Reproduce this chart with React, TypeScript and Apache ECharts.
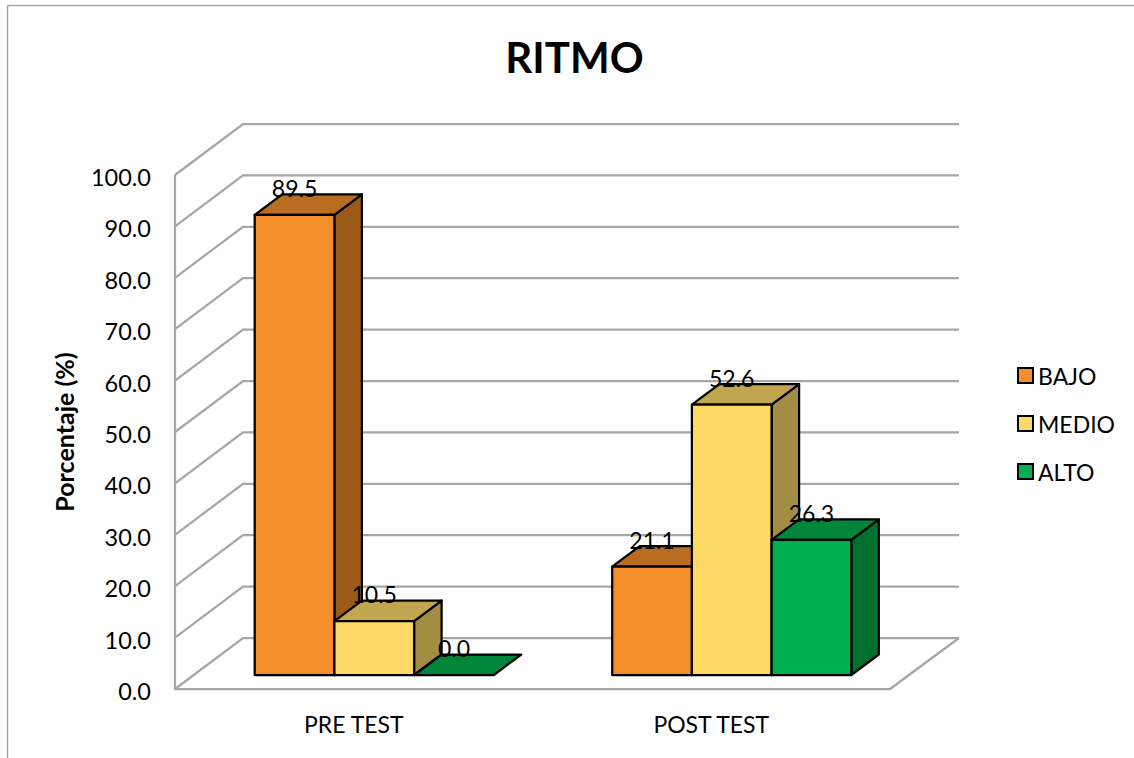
import React, { useEffect, useRef } from "react";
import * as echarts from "echarts";

const categories = ["PRE TEST", "POST TEST"];
const bajo = [89.5, 21.1];
const medio = [10.5, 52.6];
const alto = [0.0, 26.3];
const ticks = [0, 10, 20, 30, 40, 50, 60, 70, 80, 90, 100];

const FONT = "Lato";
const GRID_COLOR = "#A6A6A6";
// 3D projection offsets in pixels
const WALL_DX = 68;
const WALL_DY = -51;
const BAR_W = 79.7;
const BAR_OFF_X = 20.5;
const BAR_OFF_Y = -14;
const DEPTH_X = 27.5;
const DEPTH_Y = -20.5;

const barStroke = { stroke: "#000", lineWidth: 2.25, lineJoin: "round" as const };

function makeBars(name: string, values: number[], slot: number, front: string, top: string, side: string) {
  return {
    type: "custom",
    name,
    coordinateSystem: "cartesian2d",
    itemStyle: { color: front },
    encode: { x: 0, y: 1 },
    clip: false,
    data: values.map((v, i) => [i, v]),
    renderItem: (_p: any, api: any) => {
      const value = api.value(1);
      const [cx, y0] = api.coord([api.value(0), 0]);
      const [, yv] = api.coord([api.value(0), value]);
      const l = cx + BAR_OFF_X + slot * BAR_W - BAR_W / 2;
      const r = l + BAR_W;
      const b = y0 + BAR_OFF_Y;
      const t = yv + BAR_OFF_Y;
      const dx = DEPTH_X;
      const dy = DEPTH_Y;
      const children: any[] = [];
      if (b - t > 0.5) {
        children.push({
          type: "polygon",
          shape: { points: [[r, t], [r + dx, t + dy], [r + dx, b + dy], [r, b]] },
          style: { fill: side, ...barStroke },
        });
      }
      children.push({
        type: "polygon",
        shape: { points: [[l, t], [l + dx, t + dy], [r + dx, t + dy], [r, t]] },
        style: { fill: top, ...barStroke },
      });
      if (b - t > 0.5) {
        children.push({
          type: "polygon",
          shape: { points: [[l, t], [r, t], [r, b], [l, b]] },
          style: { fill: front, ...barStroke },
        });
      }
      children.push({
        type: "text",
        style: {
          text: value.toFixed(1),
          x: (l + r) / 2,
          y: t - 27,
          align: "center",
          verticalAlign: "middle",
          font: `23px ${FONT}`,
          fill: "#000",
        },
      });
      return { type: "group", children };
    },
  };
}

export default function App() {
  const ref = useRef<HTMLDivElement>(null);
  useEffect(() => {
    const chart = echarts.init(ref.current!, null, { renderer: "svg" });
    chart.setOption({
      animation: false,
      backgroundColor: "#fff",
      title: {
        text: "RITMO",
        left: 569.5,
        top: 31,
        textAlign: "center",
        textStyle: { fontFamily: FONT, fontWeight: "bold", fontSize: 42, color: "#000" },
      },
      graphic: [
        { type: "line", shape: { x1: 7.5, y1: 5.5, x2: 1134, y2: 5.5 }, style: { stroke: GRID_COLOR, lineWidth: 1.5 } },
        { type: "line", shape: { x1: 7.5, y1: 5.5, x2: 7.5, y2: 758 }, style: { stroke: GRID_COLOR, lineWidth: 1.5 } },
      ],
      legend: {
        data: ["BAJO", "MEDIO", "ALTO"],
        orient: "vertical",
        left: 1012,
        top: 359,
        icon: "rect",
        itemWidth: 15,
        itemHeight: 15,
        itemGap: 25,
        selectedMode: false,
        itemStyle: { borderColor: "#000", borderWidth: 2 },
        textStyle: { fontFamily: FONT, fontSize: 23, color: "#000" },
      },
      grid: { left: 175, top: 175, width: 715, height: 514 },
      xAxis: {
        type: "category",
        data: categories,
        axisLine: { show: false },
        axisTick: { show: false },
        axisLabel: { fontFamily: FONT, fontSize: 23, color: "#000", margin: 23 },
      },
      yAxis: {
        type: "value",
        min: 0,
        max: 100,
        interval: 10,
        name: "Porcentaje (%)",
        nameLocation: "middle",
        nameGap: 99,
        nameTextStyle: { fontFamily: FONT, fontWeight: "bold", fontSize: 25, color: "#000" },
        axisLine: { show: false },
        axisTick: { show: false },
        splitLine: { show: false },
        axisLabel: {
          color: "#000",
          margin: 24,
          formatter: (v: number) => `{t|${v.toFixed(1)}}`,
          rich: { t: { fontFamily: FONT, fontSize: 23.5, color: "#000", padding: [4, 0, 0, 0] } },
        },
      },
      series: [
        {
          type: "custom",
          name: "walls",
          coordinateSystem: "cartesian2d",
          encode: { y: 1 },
          clip: false,
          silent: true,
          data: ticks.map((t) => [0, t]),
          renderItem: (params: any, api: any) => {
            const g = params.coordSys;
            const [, y] = api.coord([0, api.value(1)]);
            const x0 = g.x;
            const x1 = g.x + g.width;
            const lineStyle = { stroke: GRID_COLOR, lineWidth: 2.25, fill: "none" };
            const children: any[] = [
              {
                type: "polyline",
                shape: { points: [[x0, y], [x0 + WALL_DX, y + WALL_DY], [x1 + WALL_DX + 1, y + WALL_DY]] },
                style: lineStyle,
              },
            ];
            if (api.value(1) === ticks[0]) {
              children.push({
                type: "polyline",
                shape: { points: [[x0, g.y], [x0, y], [x1, y], [x1 + WALL_DX + 1, y + WALL_DY]] },
                style: lineStyle,
              });
            }
            return { type: "group", children };
          },
        },
        makeBars("BAJO", bajo, -1, "#F48E2B", "#B96D20", "#9C5A19"),
        makeBars("MEDIO", medio, 0, "#FFD966", "#C2A64F", "#A38D44"),
        makeBars("ALTO", alto, 1, "#00B050", "#00863A", "#00702F"),
      ],
    });
    return () => chart.dispose();
  }, []);
  return <div ref={ref} style={{ position: "absolute", left: 0, top: 0, width: 1134, height: 758 }} />;
}
